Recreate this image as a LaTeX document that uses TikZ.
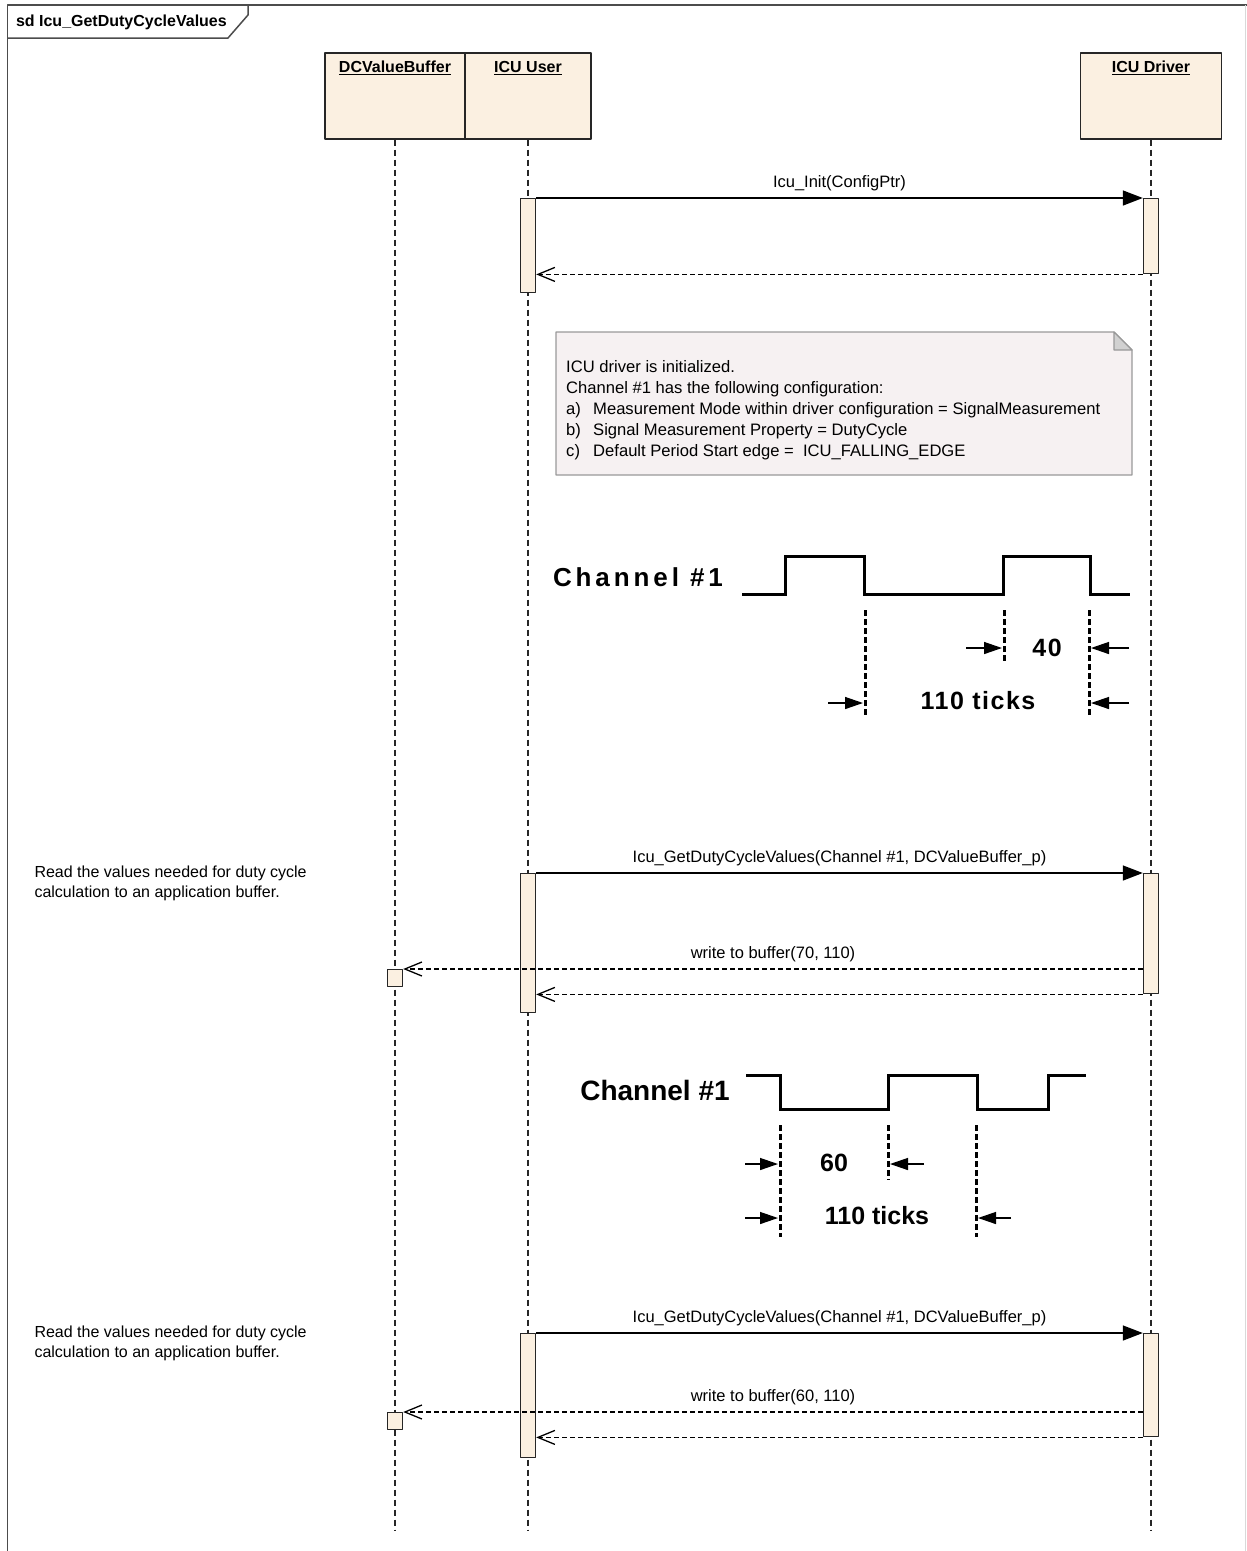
\documentclass[tikz,border=0pt]{standalone}
\usepackage{fontspec}
\setmainfont{Liberation Sans}
\newfontfamily\spaced[LetterSpace=15]{Liberation Sans}
\newfontfamily\spacedb[LetterSpace=6]{Liberation Sans}
\usetikzlibrary{arrows.meta}
\definecolor{lifefill}{RGB}{251,240,225}
\definecolor{notefill}{RGB}{246,241,242}
\begin{document}
\begin{tikzpicture}[x=1pt, y=-1pt, line join=round, font=\fontsize{16}{20}\selectfont,
	lifehead/.style={draw=black!85, line width=1.6pt, fill=lifefill, anchor=north, minimum height=86pt, inner ysep=7pt, text height=13pt, text depth=59pt, font=\fontsize{16}{19}\selectfont\bfseries},
	act/.style={draw=black!85, line width=1.4pt, fill=lifefill, anchor=north, minimum width=15pt, inner sep=0pt},
	lifeline/.style={black!85, line width=1.5pt, dash pattern=on 6pt off 4pt},
	call/.style={line width=1.5pt, -{Triangle[length=20pt,width=15pt]}},
	reply/.style={line width=1.3pt, dash pattern=on 5pt off 3pt, -{Straight Barb[length=17pt,width=14pt,line width=1.3pt]}},
	msg/.style={above=3pt, font=\fontsize{16.5}{19}\selectfont},
	tickline/.style={line width=3pt, dash pattern=on 6pt off 3pt},
	dimarrow/.style={line width=1.4pt, -{Triangle[length=18pt,width=12pt]}},
	wave/.style={line width=3pt, line join=miter}]
	\useasboundingbox (0,0) rectangle (1247,1551);
	\def\xb{395} \def\xu{528} \def\xd{1151}
	\draw[black!70, line width=1.8pt] (7.5,1551) -- (7.5,5) -- (1247,5);
	\draw[black!15, line width=1pt] (1245.5,5) -- (1245.5,1551);
	\draw[black!70, line width=1.5pt] (7.5,38) -- (228,38) -- (248,15) -- (248,5);
	\node[anchor=west, font=\fontsize{16}{19}\selectfont\bfseries] (title) at (12.5,22) {sd Icu\_GetDutyCycleValues};
	\node[lifehead, minimum width=140pt] (buf) at (\xb,52) {\underline{DCValueBuffer}};
	\node[lifehead, minimum width=126pt] (usr) at (\xu,52) {\underline{ICU User}};
	\node[lifehead, minimum width=141pt] (drv) at (\xd,52) {\underline{ICU Driver}};
	\coordinate (end) at (0,1530);
	\foreach \n in {buf,usr,drv}{
		\draw[lifeline] (\n.south) -- (\n.south |- end);
	}
	\foreach \n/\x/\t/\b in {a1/\xu/198/292, b1/\xd/198/273, a2/\xu/873/1012, b2/\xd/873/993, a3/\xu/1333/1457, b3/\xd/1333/1436}{
		\node[act, minimum height={(\b-\t)*1pt}] (\n) at (\x,\t) {};
	}
	\foreach \n/\t in {s2/969, s3/1412}{
		\node[act, minimum height=17pt] (\n) at (\xb,\t) {};
	}
	\draw[call] (a1.north east) -- (b1.north west) node[msg, midway] (m1) {Icu\_Init(ConfigPtr)};
	\draw[reply] (b1.south west) -- (a1.east |- b1.south);
	\foreach \i/\v in {2/70, 3/60}{
		\draw[call] (a\i.north east) -- (b\i.north west) node[msg, midway] (m\i) {Icu\_GetDutyCycleValues(Channel \#1, DCValueBuffer\_p)};
		\draw[reply] (b\i.west |- s\i.north) -- (s\i.north east) node[msg, midway] (w\i) {write to buffer(\v, 110)};
		\draw[reply] (b\i.south west) -- (a\i.east |- b\i.south);
	}
	\node[anchor=west, align=left] (n2) at (31,883) {Read the values needed for duty cycle\\calculation to an application buffer.};
	\node[anchor=west, align=left] (n3) at (31,1343) {Read the values needed for duty cycle\\calculation to an application buffer.};
	\draw[draw=black!40, fill=notefill, line width=1.2pt] (556,332) -- (1114,332) -- (1132,350) -- (1132,475) -- (556,475) -- cycle;
	\draw[draw=black!40, fill=black!18, line width=1.2pt] (1114,332) -- (1114,350) -- (1132,350) -- cycle;
	\node[anchor=north west, align=left, inner sep=0pt, font=\fontsize{16.6}{21}\selectfont] (cfg) at (566,360) {ICU driver is initialized.\\
		Channel \#1 has the following configuration:\\
		\makebox[27pt][l]{a)}Measurement Mode within driver configuration = SignalMeasurement\\
		\makebox[27pt][l]{b)}Signal Measurement Property = DutyCycle\\
		\makebox[27pt][l]{c)}Default Period Start edge = \ ICU\_FALLING\_EDGE};
	\draw[wave] (742,594) -- (785,594) -- (785,556) -- (864,556) -- (864,594) -- (1003,594) -- (1003,556) -- (1090,556) -- (1090,594) -- (1130,594);
	\draw[wave] (746,1075) -- (780,1075) -- (780,1109) -- (888,1109) -- (888,1075) -- (977,1075) -- (977,1109) -- (1048,1109) -- (1048,1075) -- (1086,1075);
	\foreach \x/\t/\b in {865/610/717, 1004/610/662, 1089/610/717, 780/1125/1237, 888/1125/1180, 976/1125/1237}{
		\draw[tickline] (\x,\t) -- (\x,\b);
	}
	\foreach \a/\b/\y in {966/1002/648, 1129/1091/648, 828/863/703, 1129/1091/703, 745/778/1164, 924/890/1164, 745/778/1218, 1011/978/1218}{
		\draw[dimarrow] (\a,\y) -- (\b,\y);
	}
	\node[font=\fontsize{26}{30}\spaced\bfseries] (ch1) at (638,577) {Channel \#1};
	\node[font=\fontsize{25}{30}\spacedb\bfseries] (d40) at (1047,648) {40};
	\node[font=\fontsize{25}{30}\spacedb\bfseries] (t1) at (978,701) {110 ticks};
	\node[font=\fontsize{28}{32}\selectfont\bfseries] (ch2) at (655,1090) {Channel \#1};
	\node[font=\fontsize{25}{30}\selectfont\bfseries] (d60) at (834,1163) {60};
	\node[font=\fontsize{25}{30}\selectfont\bfseries] (t2) at (877,1216) {110 ticks};
\end{tikzpicture}
\end{document}
